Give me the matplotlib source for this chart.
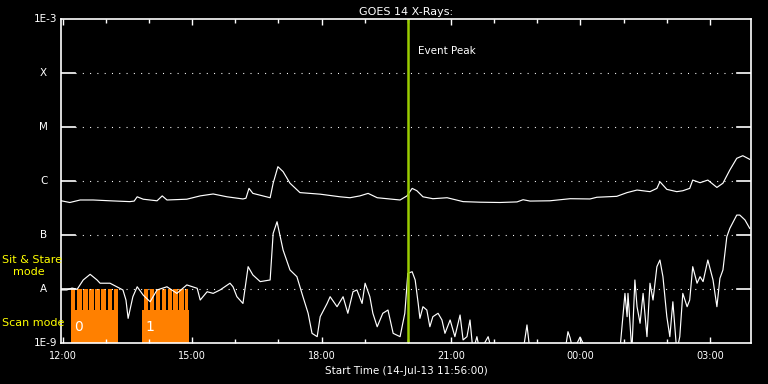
import matplotlib
matplotlib.use("Agg")
import matplotlib.pyplot as plt

# hours after 12:00 on 14-Jul-13
long_time = [-0.03, 0.17, 0.41, 0.71, 1.10, 1.56, 1.66, 1.73, 1.87, 2.19, 2.31, 2.42,
             2.88, 3.19, 3.49, 3.81, 4.18, 4.25, 4.32, 4.41, 4.81, 4.88, 4.99, 5.11,
             5.27, 5.50, 5.97, 6.43, 6.66, 6.89, 7.08, 7.29, 7.82, 7.98, 8.10, 8.21,
             8.35, 8.58, 8.91, 9.28, 9.67, 10.13, 10.53, 10.67, 10.83, 11.29, 11.76,
             12.22, 12.38, 12.84, 13.08, 13.31, 13.61, 13.77, 13.84, 14.00, 14.23,
             14.37, 14.53, 14.60, 14.77, 14.95, 15.16, 15.30, 15.46, 15.62, 15.76, 15.92]
long_flux = [4.3e-7, 4.0e-7, 4.45e-7, 4.45e-7, 4.3e-7, 4.15e-7, 4.25e-7, 5.1e-7, 4.6e-7,
             4.3e-7, 5.3e-7, 4.45e-7, 4.6e-7, 5.3e-7, 5.75e-7, 5.1e-7, 4.65e-7, 4.8e-7,
             7.3e-7, 5.9e-7, 4.9e-7, 9.1e-7, 1.84e-6, 1.49e-6, 9.1e-7, 6.1e-7, 5.7e-7,
             5.1e-7, 4.9e-7, 5.3e-7, 5.9e-7, 4.9e-7, 4.45e-7, 5.3e-7, 7.3e-7, 6.6e-7,
             5.1e-7, 4.7e-7, 4.9e-7, 4.15e-7, 4.05e-7, 4.0e-7, 4.1e-7, 4.5e-7, 4.25e-7,
             4.3e-7, 4.7e-7, 4.65e-7, 5.0e-7, 5.2e-7, 6.1e-7, 6.8e-7, 6.35e-7, 7.3e-7,
             9.7e-7, 7.0e-7, 6.35e-7, 6.6e-7, 7.3e-7, 1.04e-6, 9.3e-7, 1.04e-6, 7.6e-7,
             9.1e-7, 1.6e-6, 2.63e-6, 2.94e-6, 2.52e-6]

short_time = [-0.04, 0.10, 0.22, 0.34, 0.48, 0.64, 0.80, 0.87, 1.10, 1.26, 1.40, 1.47,
              1.52, 1.63, 1.73, 1.87, 2.03, 2.19, 2.42, 2.65, 2.88, 3.12, 3.19, 3.35,
              3.49, 3.65, 3.88, 3.95, 4.04, 4.18, 4.30, 4.41, 4.58, 4.81, 4.88, 4.97,
              5.11, 5.27, 5.43, 5.57, 5.69, 5.78, 5.90, 5.97, 6.13, 6.20, 6.36, 6.50,
              6.61, 6.73, 6.82, 6.94, 7.01, 7.12, 7.19, 7.29, 7.42, 7.54, 7.66, 7.82,
              7.93, 8.00, 8.10, 8.17, 8.24, 8.28, 8.35, 8.44, 8.51, 8.58, 8.70, 8.79,
              8.86, 8.98, 9.09, 9.21, 9.28, 9.37, 9.44, 9.51, 9.60, 9.67, 9.86, 9.95,
              10.67, 10.76, 10.83, 11.64, 11.71, 11.76, 11.83, 11.99, 12.15, 12.91,
              13.03, 13.08, 13.10, 13.19, 13.26, 13.31, 13.38, 13.45, 13.54, 13.61,
              13.68, 13.77, 13.84, 13.91, 14.00, 14.07, 14.14, 14.23, 14.30, 14.37,
              14.47, 14.53, 14.60, 14.70, 14.77, 14.84, 14.95, 15.07, 15.16, 15.23,
              15.30, 15.39, 15.46, 15.62, 15.69, 15.81, 15.92]
short_flux = [9.6e-9, 9.6e-9, 1.04e-8, 9.9e-9, 1.47e-8, 1.87e-8, 1.47e-8, 1.28e-8, 1.28e-8,
              1.10e-8, 9.6e-9, 6.25e-9, 2.86e-9, 7.2e-9, 1.10e-8, 7.7e-9, 5.8e-9, 9.6e-9,
              1.10e-8, 8.3e-9, 1.19e-8, 1.03e-8, 6.25e-9, 8.9e-9, 8.3e-9, 9.6e-9, 1.28e-8,
              1.10e-8, 7.2e-9, 5.4e-9, 2.59e-8, 1.82e-8, 1.37e-8, 1.47e-8, 1.07e-7, 1.76e-7,
              5.27e-8, 2.25e-8, 1.69e-8, 7.2e-9, 3.55e-9, 1.51e-9, 1.31e-9, 3.07e-9, 5.4e-9,
              7.2e-9, 4.7e-9, 7.2e-9, 3.55e-9, 8.9e-9, 9.6e-9, 5.4e-9, 1.28e-8, 7.2e-9,
              3.55e-9, 2.0e-9, 3.55e-9, 4.08e-9, 1.51e-9, 1.31e-9, 3.55e-9, 1.95e-8, 2.09e-8,
              1.47e-8, 5.4e-9, 2.86e-9, 4.7e-9, 4.08e-9, 2.0e-9, 3.07e-9, 3.55e-9, 2.67e-9,
              1.51e-9, 2.67e-9, 1.31e-9, 3.3e-9, 1.14e-9, 1.31e-9, 2.67e-9, 7e-10, 1.31e-9,
              7e-10, 1.31e-9, 7e-10, 7e-10, 2.16e-9, 7e-10, 7e-10, 1.62e-9, 1.24e-9, 7e-10,
              1.29e-9, 7e-10, 7e-10, 8.3e-9, 3.07e-9, 8.3e-9, 7e-10, 1.47e-8, 4.7e-9,
              2.32e-9, 8.3e-9, 1.31e-9, 1.28e-8, 6.25e-9, 2.59e-8, 3.44e-8, 1.69e-8, 3.07e-9,
              1.31e-9, 5.8e-9, 7e-10, 1.31e-9, 8.3e-9, 4.7e-9, 6.25e-9, 2.59e-8, 1.28e-8,
              1.69e-8, 1.37e-8, 3.44e-8, 1.47e-8, 4.7e-9, 1.58e-8, 2.25e-8, 9.3e-8, 1.33e-7,
              2.34e-7, 2.34e-7, 1.90e-7, 1.33e-7]

# scan mode blocks (start, end) and sit & stare teeth
scan_blocks = [(0.197, 1.286), (1.842, 2.930)]
scan_labels = ["0", "1"]
stare_teeth = [(0.197, 0.299), (0.338, 0.440), (0.479, 0.581), (0.621, 0.723),
               (0.762, 0.864), (0.903, 1.005), (1.045, 1.147), (1.186, 1.286),
               (1.888, 1.987), (2.025, 2.124), (2.161, 2.261), (2.298, 2.397),
               (2.434, 2.534), (2.571, 2.671), (2.708, 2.807), (2.845, 2.896)]
scan_level = 4.08e-9
stare_level = 1e-8

event_peak = 8.0
xtick_pos = [0, 3, 6, 9, 12, 15]
xtick_labels = ["12:00", "15:00", "18:00", "21:00", "00:00", "03:00"]
ylevels = [1e-9, 1e-8, 1e-7, 1e-6, 1e-5, 1e-4, 1e-3]
ylabels = ["1E-9", "A", "B", "C", "M", "X", "1E-3"]

plt.rcParams['lines.scale_dashes'] = False
fig = plt.figure(figsize=(7.68, 3.84), dpi=100, facecolor='black')
ax = fig.add_axes([61 / 768, 41 / 384, 690 / 768, 324 / 384], facecolor='black')
ax.set_yscale('log')
ax.set_xlim(-0.035, 15.95)
ax.set_ylim(1e-9, 1e-3)

for s in ax.spines.values():
    s.set_color('white')
    s.set_linewidth(1.2)

# class levels: solid stubs on both sides plus dotted lines
for lev in ylevels[1:-1]:
    ax.axhline(lev, xmin=0, xmax=0.02, color='white', lw=1.2)
    ax.axhline(lev, xmin=0.98, xmax=1, color='white', lw=1.2)
    ax.axhline(lev, xmin=0.02, xmax=0.98, color='white', lw=0.8, ls=(0, (0.75, 4.5)))

for lev, lab in zip(ylevels, ylabels):
    if lab.startswith("1E"):
        ax.annotate(lab, xy=(0, lev), xycoords=('axes fraction', 'data'), xytext=(-3, 0),
                    textcoords='offset points', ha='right', va='center', color='white', fontsize=7.5)
    else:
        ax.annotate(lab, xy=(0, lev), xycoords=('axes fraction', 'data'), xytext=(-12.5, 0),
                    textcoords='offset points', ha='center', va='center', color='white', fontsize=7.5)

ax.set_yticks([])
ax.minorticks_off()
ax.set_xticks(xtick_pos)
ax.set_xticklabels(xtick_labels)
ax.set_xticks(range(0, 16), minor=True)
ax.tick_params(axis='x', which='both', direction='in', top=True, bottom=True, colors='white',
               labelcolor='white', labelsize=7, pad=6)
ax.tick_params(axis='x', which='major', length=4.5, width=1)
ax.tick_params(axis='x', which='minor', length=3, width=1)

# scan mode bars
for (a, b), lab in zip(scan_blocks, scan_labels):
    ax.bar(a, scan_level - 1e-10, bottom=1e-10, width=b - a, align='edge', color='#ff8000',
           lw=0, antialiased=False)
    ax.text(a + 0.08, 2.0e-9, lab, color='white', fontsize=10, va='center', ha='left')
for a, b in stare_teeth:
    ax.bar(a, stare_level - scan_level, bottom=scan_level, width=b - a, align='edge',
           color='#ff8000', lw=0, antialiased=False)

ax.plot(long_time, long_flux, color='white', lw=0.85)
ax.plot(short_time, short_flux, color='white', lw=0.85)

ax.axvline(event_peak, color='#9acd00', lw=1.8)
ax.text(event_peak + 0.23, 2.6e-4, "Event Peak", color='white', fontsize=7.5, va='center')

ax.set_title("GOES 14 X-Rays:", color='white', fontsize=8, pad=3)
ax.set_xlabel("Start Time (14-Jul-13 11:56:00)", color='white', fontsize=7.5, labelpad=3)

fig.text(2 / 768, 1 - 260 / 384, "Sit & Stare", color='yellow', fontsize=8, va='center', ha='left')
fig.text(13 / 768, 1 - 272 / 384, "mode", color='yellow', fontsize=8, va='center', ha='left')
fig.text(2 / 768, 1 - 323 / 384, "Scan mode", color='yellow', fontsize=8, va='center', ha='left')

fig.savefig("out.png", dpi=100, facecolor='black')
